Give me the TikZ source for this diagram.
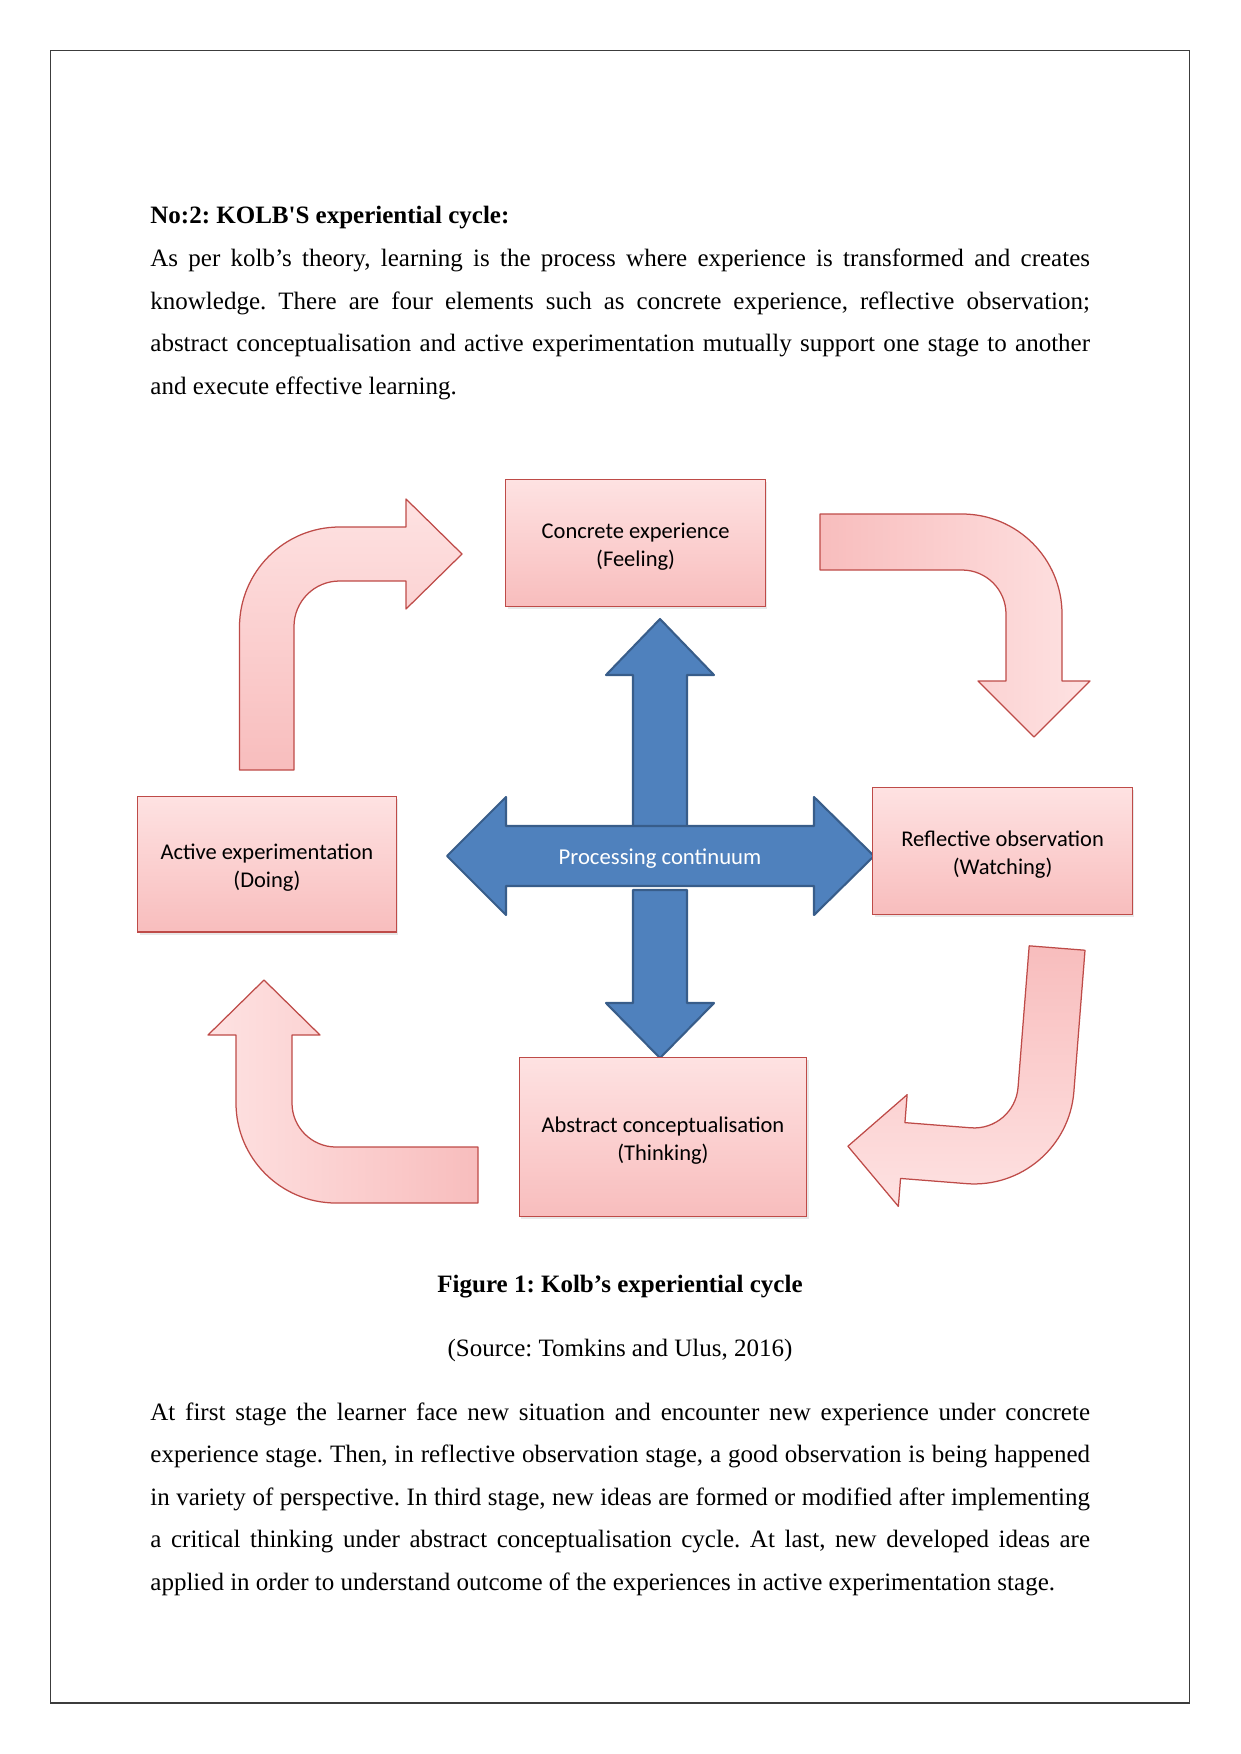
\documentclass[tikz,border=0pt]{standalone}
\usepackage{fontspec}
\setmainfont{Liberation Serif}
\newfontfamily\kolbsans{Carlito}
\usetikzlibrary{shadows}
\definecolor{KolbFrame}{HTML}{3C3C3C}
\definecolor{KolbPinkLight}{HTML}{FEE2E2}
\definecolor{KolbPinkDeep}{HTML}{F8BDBD}
\definecolor{KolbRed}{HTML}{BE4B48}
\definecolor{KolbBlue}{HTML}{4F81BD}
\definecolor{KolbBlueLine}{HTML}{385D8A}
\tikzset{
  kolb stage/.style={
    draw=KolbRed,
    line width=0.6pt,
    top color=KolbPinkLight,
    bottom color=KolbPinkDeep,
    drop shadow={opacity=0.18,shadow xshift=1pt,shadow yshift=-1.3pt},
    align=center,
    inner sep=2pt,
    text height=24pt,
    font=\kolbsans\fontsize{10.8}{13.4}\selectfont
  },
  kolb bend/.style={
    draw=KolbRed,
    line width=0.6pt,
    line join=round
  },
  kolb cross/.style={
    draw=KolbBlueLine,
    fill=KolbBlue,
    line width=1pt,
    line join=round
  },
  kolb label/.style={
    text=white,
    inner sep=0pt,
    yshift=-1.1pt,
    font=\kolbsans\fontsize{10.9}{13}\selectfont
  },
  kolb para/.style={
    anchor=base west,
    inner sep=0pt,
    text width=451pt,
    align=justify,
    font=\fontsize{12}{20.4}\selectfont\frenchspacing
  },
  kolb centre/.style={
    anchor=base,
    inner sep=0pt,
    font=\fontsize{12}{14}\selectfont\frenchspacing
  },
  kolb frame/.style={draw=KolbFrame,line width=0.7pt}
}
\begin{document}
\begin{tikzpicture}[x=0.48pt,y=-0.48pt]
  \useasboundingbox (0,0) rectangle (1241,1754);
  \draw[kolb frame] (50.4,50.4) rectangle (1189.6,1703.2);

  % text above the figure
  \node[kolb para] (heading) at (150,223.2) {\textbf{No:2: KOLB\textquotesingle S experiential cycle:}};
  \node[kolb para] (intro) at (150,266.5) {As per kolb’s theory, learning is the process where experience is transformed and creates\linebreak
    knowledge. There are four elements such as concrete experience, reflective observation;\linebreak
    abstract conceptualisation and active experimentation mutually support one stage to another\linebreak
    and execute effective learning.};

  % bent arrows of the cycle
  \draw[kolb bend,top color=KolbPinkLight,bottom color=KolbPinkDeep]
    (239.5,770) -- (239.5,627) arc[start angle=180,end angle=270,radius=100]
    -- (406,527) -- (406,499) -- (462,554) -- (406,609) -- (406,581)
    -- (339.5,581) arc[start angle=270,end angle=180,radius=45.5]
    -- (294,770) -- cycle;
  \draw[kolb bend,left color=KolbPinkDeep,right color=KolbPinkLight]
    (820,514) -- (962,514) arc[start angle=270,end angle=360,radius=100]
    -- (1062,681) -- (1090,681) -- (1034,737) -- (978,681) -- (1006,681)
    -- (1006,614) arc[start angle=0,end angle=-90,radius=44]
    -- (820,570) -- cycle;
  \begin{scope}[rotate around={-4.5:(1000,1100)}]
    \draw[kolb bend,top color=KolbPinkDeep,bottom color=KolbPinkLight]
      (1017,944) -- (1073,944) -- (1073,1086) arc[start angle=0,end angle=90,radius=100]
      -- (907,1186) -- (907,1214) -- (852,1158) -- (907,1102) -- (907,1130)
      -- (973,1130) arc[start angle=90,end angle=0,radius=44] -- cycle;
  \end{scope}
  \draw[kolb bend,left color=KolbPinkLight,right color=KolbPinkDeep]
    (478,1203) -- (336,1203) arc[start angle=90,end angle=180,radius=100]
    -- (236,1035) -- (208,1035) -- (264,980) -- (320,1035) -- (292,1035)
    -- (292,1103) arc[start angle=180,end angle=90,radius=44]
    -- (478,1147) -- cycle;

  % processing continuum cross
  \draw[kolb cross] (633,827) -- (633,675) -- (606,675) -- (660,619) -- (714,675) -- (687,675) -- (687,827) -- cycle;
  \draw[kolb cross] (447,856) -- (506,797) -- (506,826) -- (814,826) -- (814,797) -- (874,856)
    -- (814,915) -- (814,886) -- (506,886) -- (506,915) -- cycle;
  \draw[kolb cross] (633,890) -- (687,890) -- (687,1003) -- (714,1003) -- (660,1058) -- (606,1003) -- (633,1003) -- cycle;
  \node[kolb label] (continuum) at (660,856) {Processing continuum};

  % the four stages
  \node[kolb stage,minimum width=124.6pt,minimum height=60.7pt] (concrete) at (635.6,543) {Concrete experience\\(Feeling)};
  \node[kolb stage,minimum width=124.6pt,minimum height=60.7pt] (reflective) at (1002.6,851) {Reflective observation\\(Watching)};
  \node[kolb stage,minimum width=138pt,minimum height=76.3pt] (abstract) at (663,1137) {Abstract conceptualisation\\(Thinking)};
  \node[kolb stage,minimum width=124.1pt,minimum height=65pt] (active) at (266.9,864.4) {Active experimentation\\(Doing)};

  % caption and text below the figure
  \node[kolb centre] (caption) at (620,1292.3) {\textbf{Figure 1: Kolb’s experiential cycle}};
  \node[kolb centre] (source) at (620,1356.3) {(Source: Tomkins and Ulus, 2016)};
  \node[kolb para] (outro) at (150,1420.3) {At first stage the learner face new situation and encounter new experience under concrete\linebreak
    experience stage. Then, in reflective observation stage, a good observation is being happened\linebreak
    in variety of perspective. In third stage, new ideas are formed or modified after implementing\linebreak
    a critical thinking under abstract conceptualisation cycle. At last, new developed ideas are\linebreak
    applied in order to understand outcome of the experiences in active experimentation stage.};
\end{tikzpicture}
\end{document}
